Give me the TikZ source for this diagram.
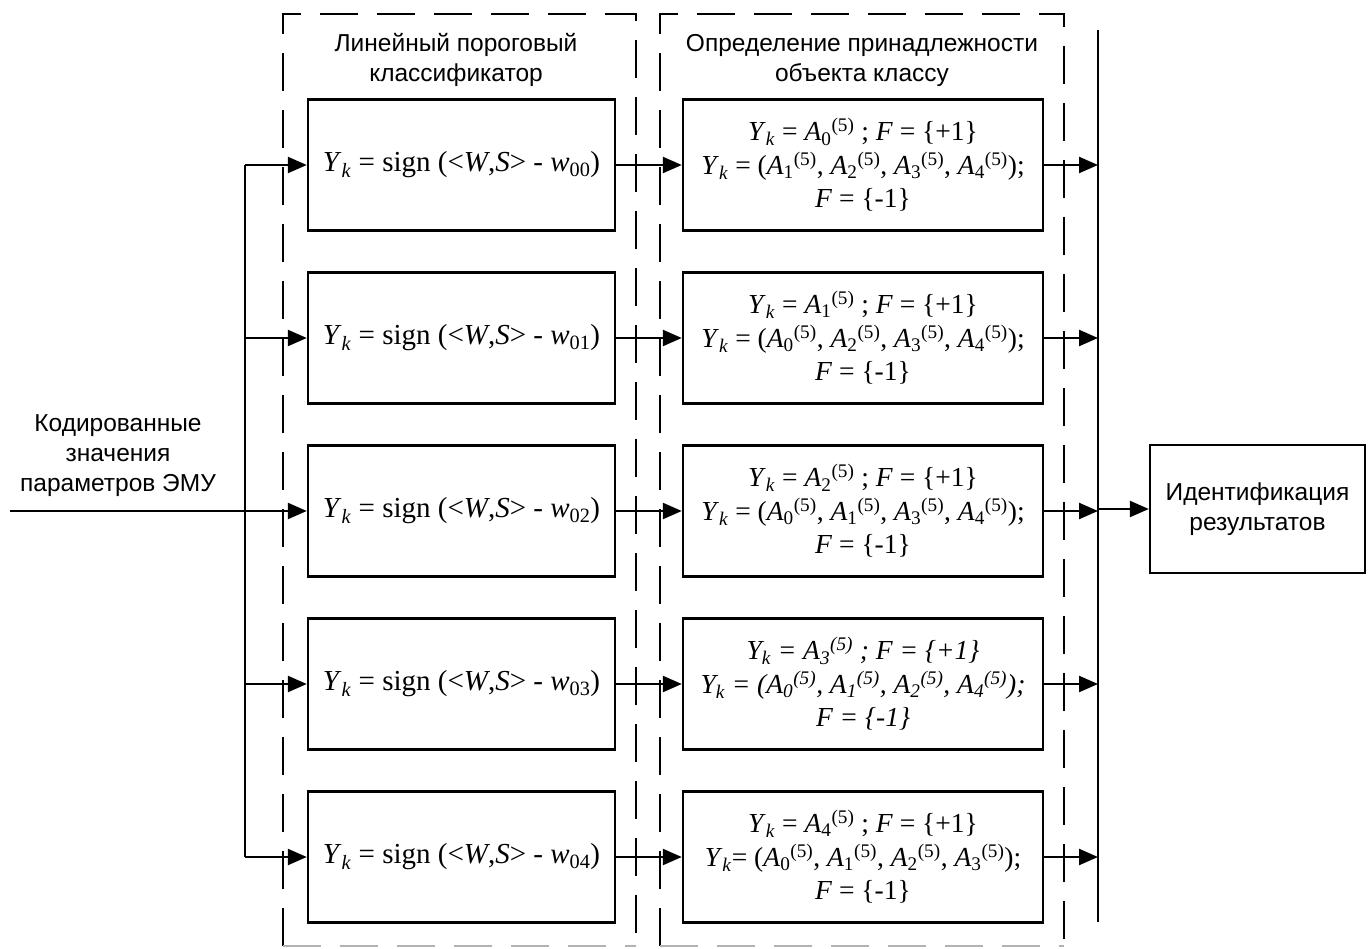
\documentclass[tikz,border=0pt]{standalone}
\usepackage{fontspec}
\setmainfont{Liberation Sans}
\newfontfamily\tnr{Liberation Serif}
\usetikzlibrary{arrows.meta}
\newcommand\Yk{\textit{Y}\textsubscript{\textit{k}}}
\newcommand\Af[1]{\textit{A}\textsubscript{#1}\textsuperscript{(5)}}
\newcommand\Ai[1]{\textit{A}\textsubscript{\textit{#1}}\textsuperscript{\textit{(5)}}}
\tikzset{
  lbl/.style={font=\fontsize{24.5}{30}\selectfont, align=center, inner sep=0pt},
  frm/.style={line width=2.2pt, dash pattern=on 38pt off 19pt},
  cls/.style={draw, line width=2.4pt, minimum width=307pt, minimum height=131pt, inner sep=0pt,
    font=\tnr\fontsize{29}{33}\selectfont},
  blk/.style={draw, line width=2.4pt, minimum width=360pt, minimum height=131pt, inner sep=0pt,
    align=center, font=\tnr\fontsize{27.5}{33.5}\selectfont},
  idb/.style={draw, line width=2.4pt, minimum width=215pt, minimum height=128pt, inner sep=0pt,
    align=center, font=\fontsize{24.5}{30}\selectfont},
  ln/.style={line width=2.4pt},
  arr/.style={line width=2.4pt, -{Triangle[length=19pt,width=16pt]}}
}
\begin{document}
\begin{tikzpicture}[x=1pt,y=-1pt]
\useasboundingbox (0,0) rectangle (1370,949);
% dashed frames
\draw[frm] (283,946) -- (283,14) -- (636,14) -- (636,946);
\draw[frm,gray!60] (283,946) -- (636,946);
\draw[frm] (660,946) -- (660,14) -- (1064,14) -- (1064,946);
\draw[frm,gray!60] (660,946) -- (1064,946);
% titles
\node[lbl] (t1) at (456,60) {Линейный пороговый\\классификатор};
\node[lbl] (t2) at (862,60) {Определение принадлежности\\объекта классу};
% classifier boxes
\node[cls] (L1) at (461.5,165) {\Yk{} = sign (<\textit{W},\textit{S}> - \textit{w}\textsubscript{00})};
\node[cls] (L2) at (461.5,338) {\Yk{} = sign (<\textit{W},\textit{S}> - \textit{w}\textsubscript{01})};
\node[cls] (L3) at (461.5,511) {\Yk{} = sign (<\textit{W},\textit{S}> - \textit{w}\textsubscript{02})};
\node[cls] (L4) at (461.5,684) {\Yk{} = sign (<\textit{W},\textit{S}> - \textit{w}\textsubscript{03})};
\node[cls] (L5) at (461.5,857) {\Yk{} = sign (<\textit{W},\textit{S}> - \textit{w}\textsubscript{04})};
% class boxes
\node[blk] (R1) at (863,165) {\Yk{} = \Af{0} ; \textit{F} = \{+1\}\\\Yk{} = (\Af{1}, \Af{2}, \Af{3}, \Af{4});\\\textit{F} = \{-1\}};
\node[blk] (R2) at (863,338) {\Yk{} = \Af{1} ; \textit{F} = \{+1\}\\\Yk{} = (\Af{0}, \Af{2}, \Af{3}, \Af{4});\\\textit{F} = \{-1\}};
\node[blk] (R3) at (863,511) {\Yk{} = \Af{2} ; \textit{F} = \{+1\}\\\Yk{} = (\Af{0}, \Af{1}, \Af{3}, \Af{4});\\\textit{F} = \{-1\}};
\node[blk] (R4) at (863,684) {\itshape\Yk{} = \Ai{3} ; \textit{F} = \{+1\}\\\itshape\Yk{} = (\Ai{0}, \Ai{1}, \Ai{2}, \Ai{4});\\\itshape F = \{-1\}};
\node[blk] (R5) at (863,857) {\Yk{} = \Af{4} ; \textit{F} = \{+1\}\\\Yk{}= (\Af{0}, \Af{1}, \Af{2}, \Af{3});\\\textit{F} = \{-1\}};
% identification
\node[idb] (ID) at (1257.5,509) {Идентификация\\результатов};
% input label
\node[lbl] (in) at (118,456) {Кодированные\\значения\\параметров ЭМУ};
\coordinate (src) at (10,511);
\coordinate (lb) at (245,0);
\coordinate (bt) at (1098,30);
\coordinate (bb) at (1098,922);
% left bus
\draw[ln] (L1.west -| lb) -- (L5.west -| lb);
\draw[arr] (src) -- (L3.west);
\foreach \i in {1,2,4,5} { \draw[arr] (L\i.west -| lb) -- (L\i.west); }
% middle connectors
\foreach \i in {1,...,5} { \draw[arr] (L\i.east) -- (R\i.west); }
% right bus
\draw[ln] (bt) -- (bb);
\foreach \i in {1,...,5} { \draw[arr] (R\i.east) -- (R\i.east -| bt); }
\draw[arr] (ID.west -| bt) -- (ID.west);
\end{tikzpicture}
\end{document}
